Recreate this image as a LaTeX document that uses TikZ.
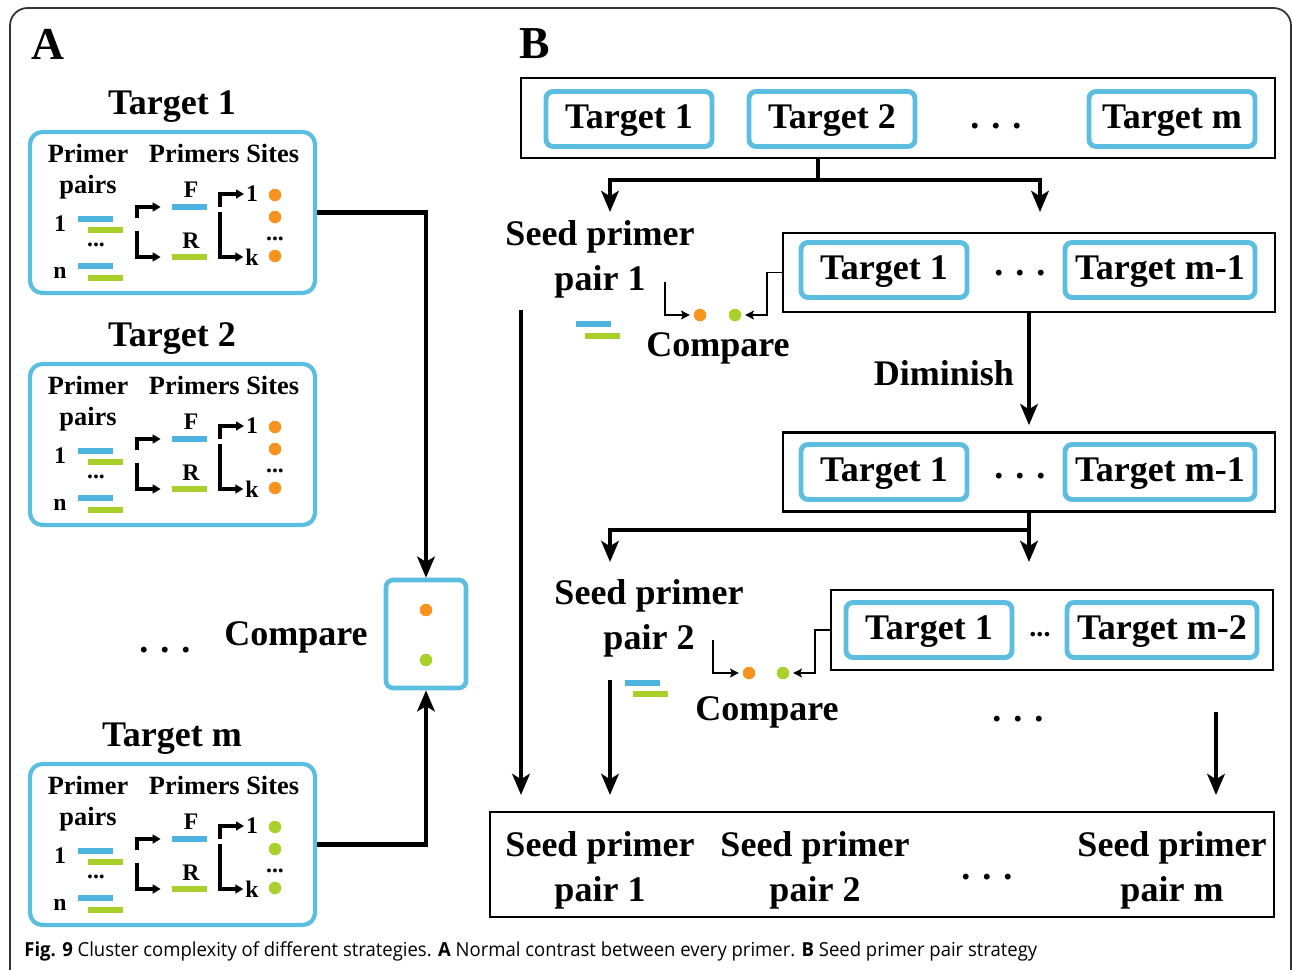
\documentclass[tikz,border=0pt]{standalone}
\usepackage{fontspec}
\setmainfont{Liberation Serif}
\newfontfamily\capfont{Open Sans}
\usetikzlibrary{arrows.meta,positioning,calc}
\definecolor{tblue}{HTML}{5BBDE0}
\definecolor{barblue}{HTML}{4DB3DF}
\definecolor{bargreen}{HTML}{A8CF2A}
\definecolor{dorange}{HTML}{F7931E}
\definecolor{dgreen}{HTML}{A9D12B}
\newcommand{\bigf}{\fontsize{20.5}{25.5}\selectfont\bfseries}
\newcommand{\smallf}{\fontsize{15}{17}\selectfont\bfseries}
\newcommand{\tinyf}{\fontsize{13.5}{15}\selectfont\bfseries}

\begin{document}
\begin{tikzpicture}[x=0.02cm,y=-0.02cm,
    tbox/.style={draw=tblue,line width=2.8pt,rounded corners=4pt,minimum width=3.32cm,minimum height=1.1cm,inner sep=0pt,text height=15.5pt,text depth=4.5pt,font=\bigf},
    wbox/.style={tbox,minimum width=3.8cm},
    frame/.style={draw=black,line width=1.6pt,inner sep=0pt},
    pbox/.style={draw=tblue,line width=2.4pt,rounded corners=7pt,minimum width=5.7cm,minimum height=3.22cm,inner sep=0pt},
    lbl/.style={font=\bigf,inner sep=1pt,yshift=-0.08cm},
    bar/.style={fill=#1,minimum width=0.7cm,minimum height=0.12cm,inner sep=0pt},
    dot/.style={circle,fill=#1,minimum size=0.25cm,inner sep=0pt},
    big/.style={line width=2.3pt,-{Stealth[length=12pt,width=10pt,inset=3pt]}},
    fine/.style={line width=1.1pt,shorten >=2pt,-{Stealth[length=5pt,width=5pt,inset=1pt]}},
    brk/.style={line width=2pt,-{Triangle[length=4.5pt,width=5pt]}}]
  \useasboundingbox (0,0) rectangle (1292,970);
  \draw[line width=1pt,black!80,rounded corners=10pt] (10,990) -- (10,8) -- (1291,8) -- (1291,990);

  \node[font=\fontsize{26}{28}\selectfont\bfseries] (labA) at (48,44) {A};
  \node[font=\fontsize{26}{28}\selectfont\bfseries] (labB) at (535,44) {B};

  % panel A: one block per target
  \foreach \dy/\nm/\lab/\dc in {0/a/1/dorange,232/b/2/dorange,632/m/m/dgreen}{
    \begin{scope}[shift={(0,\dy)}]
      \node[lbl] (tgt\nm) at (172,103) {Target \lab};
      \node[pbox] (box\nm) at (172.5,212.5) {};
      \node[font=\smallf] (pp\nm) at (88,153) {Primer};
      \node[font=\smallf] (ps\nm) at (224,153) {Primers Sites};
      \node[font=\smallf] (pr\nm) at (88,187) {pairs};
      \node[font=\tinyf] (n1\nm) at (60,224) {1};
      \node[font=\tinyf] (nd\nm) at (96,245) {...};
      \node[font=\tinyf] (nn\nm) at (60,273) {n};
      \node[bar=barblue] (b1\nm) at (95.5,219) {};
      \node[bar=bargreen] (g1\nm) at (105.5,230) {};
      \node[bar=barblue] (bn\nm) at (95.5,266) {};
      \node[bar=bargreen] (gn\nm) at (105.5,278) {};
      \node[font=\tinyf] (f\nm) at (191,190) {F};
      \node[bar=barblue] (fb\nm) at (189.5,207) {};
      \node[font=\tinyf] (r\nm) at (191,241) {R};
      \node[bar=bargreen] (rb\nm) at (189.5,257) {};
      \node[font=\tinyf,inner sep=1pt] (s1\nm) at (252,194) {1};
      \node[font=\tinyf,inner sep=1pt] (sk\nm) at (252,257) {k};
      \node[dot=\dc] (d1\nm) at (275,195) {};
      \node[dot=\dc] (d2\nm) at (275,217) {};
      \node[font=\tinyf] (dd\nm) at (275,239) {...};
      \node[dot=\dc] (d3\nm) at (275,256) {};
      \coordinate (bu\nm) at (137,218);
      \coordinate (bl\nm) at (137,231);
      \coordinate (su\nm) at (220,207);
      \coordinate (sl\nm) at (220,212);
      \draw[brk,shorten >=0.22cm] (bu\nm) |- (fb\nm.west);
      \draw[brk,shorten >=0.22cm] (bl\nm) |- (rb\nm.west);
      \draw[brk] (su\nm) |- (s1\nm.west);
      \draw[brk] (sl\nm) |- (sk\nm.west);
    \end{scope}
  }

  \node[draw=tblue,line width=2.6pt,rounded corners=4pt,minimum width=1.6cm,minimum height=2.16cm] (cmp) at (426,634) {};
  \node[dot=dorange] (cmpo) at (426,610) {};
  \node[dot=dgreen] (cmpg) at (426,660) {};
  \node[lbl] (cmpl) at (296,633) {Compare};
  \node[lbl] (adots) at (165,646) {. . .};
  \draw[big] (boxa.east) -| (cmp.north);
  \draw[big] (boxm.east) -| (cmp.south);

  % panel B: first round over all m targets
  \node[frame,minimum width=15.08cm,minimum height=1.6cm] (row1) at (898,118) {};
  \node[tbox] (t11) at (629,119) {Target 1};
  \node[tbox] (t12) at (832,119) {Target 2};
  \node[lbl] (d1) at (996,122) {. . .};
  \node[tbox] (t1m) at (1172,119) {Target m};
  \coordinate (f1) at (818,180);
  \coordinate (f1l) at (610,212);
  \coordinate (f1r) at (1040,212);
  \draw[big] (row1.south -| f1) -- (f1) -| (f1l);
  \draw[big] (f1) -| (f1r);

  \node[lbl,align=center] (seed1) at (600,255) {Seed primer\\pair 1};
  \node[frame,minimum width=9.84cm,minimum height=1.58cm] (row2) at (1029,272.5) {};
  \node[tbox] (t21) at (884,270) {Target 1};
  \node[lbl] (d2) at (1020,269) {. . .};
  \node[wbox] (t2m) at (1160,270) {Target m-1};
  \node[dot=dorange] (o1) at (700,315) {};
  \node[dot=dgreen] (g1) at (735,315) {};
  \node[bar=barblue] (pb1) at (593.5,324) {};
  \node[bar=bargreen] (pg1) at (602.5,336) {};
  \node[lbl] (cmp1) at (718,344) {Compare};
  \coordinate (c1) at (665,282);
  \draw[fine] (c1) |- (o1);
  \draw[fine] (row2.west) -- ++(-15,0) |- (g1);

  % second round, one target less
  \node[frame,minimum width=9.84cm,minimum height=1.58cm] (row3) at (1029,472) {};
  \node[tbox] (t31) at (884,472) {Target 1};
  \node[lbl] (d3) at (1020,472) {. . .};
  \node[wbox] (t3m) at (1160,472) {Target m-1};
  \draw[big,shorten >=0.12cm] (row2.south) -- (row3.north);
  \node[lbl,anchor=east] (dim) at (1016,369) {Diminish};
  \coordinate (f2) at (1029,530);
  \coordinate (f2l) at (610,562);
  \coordinate (f2r) at (1029,562);
  \draw[big] (row3.south) -- (f2) -| (f2l);
  \draw[big] (f2) -- (f2r);

  \node[lbl,align=center] (seed2) at (649,614) {Seed primer\\pair 2};
  \node[frame,minimum width=8.84cm,minimum height=1.6cm] (row4) at (1052,630) {};
  \node[tbox] (t41) at (929,630) {Target 1};
  \node[font=\fontsize{16}{18}\selectfont\bfseries] (d4) at (1040,635) {...};
  \node[wbox] (t4m) at (1162,630) {Target m-2};
  \node[dot=dorange] (o2) at (749,673) {};
  \node[dot=dgreen] (g2) at (783,673) {};
  \node[bar=barblue] (pb2) at (642.5,683) {};
  \node[bar=bargreen] (pg2) at (650.5,694) {};
  \node[lbl] (cmp2) at (767,708) {Compare};
  \coordinate (c2) at (713,640);
  \draw[fine] (c2) |- (o2);
  \draw[fine] (row4.west) -- ++(-15,0) |- (g2);
  \node[lbl] (d5) at (1018,715) {. . .};

  % collected seed primer pairs
  \node[frame,minimum width=15.68cm,minimum height=2.1cm] (bot) at (882,864.5) {};
  \node[lbl,align=center] (sp1) at (600,866) {Seed primer\\pair 1};
  \node[lbl,align=center] (sp2) at (815,866) {Seed primer\\pair 2};
  \node[lbl] (sdots) at (987,873) {. . .};
  \node[lbl,align=center] (spm) at (1172,866) {Seed primer\\pair m};
  \coordinate (v1) at (521,310);
  \coordinate (v1e) at (521,795);
  \coordinate (v2) at (610,680);
  \coordinate (v2e) at (610,795);
  \coordinate (v3) at (1216,712);
  \coordinate (v3e) at (1216,795);
  \draw[big] (v1) -- (v1e);
  \draw[big] (v2) -- (v2e);
  \draw[big] (v3) -- (v3e);

  \node[anchor=west,inner sep=0pt,font=\capfont\fontsize{11}{13}\selectfont] (cap) at (24,951)
    {\scalebox{0.957}[1]{\textbf{Fig. 9} Cluster complexity of different strategies. \textbf{A} Normal contrast between every primer. \textbf{B} Seed primer pair strategy}};
\end{tikzpicture}
\end{document}
